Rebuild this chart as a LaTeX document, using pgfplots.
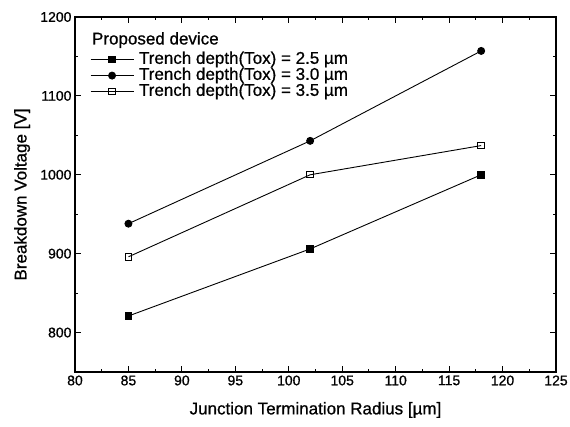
\documentclass[border=0pt]{standalone}
\usepackage{fontspec}
\setmainfont[FakeBold=0.8,BoldFont={Liberation Sans}]{Liberation Sans}
\usepackage{pgfplots}
\pgfplotsset{compat=1.18}
\begin{document}
\begin{tikzpicture}
\begin{axis}[
  scale only axis,
  width=481pt, height=355pt,
  xmin=80, xmax=125, ymin=750, ymax=1200,
  xtick={80,85,...,125},
  ytick={800,900,1000,1100,1200},
  minor x tick num=1, minor y tick num=1,
  tick align=inside,
  major tick length=6pt, minor tick length=3pt,
  axis line style={line width=1.1pt},
  every tick/.style={black, line width=0.9pt},
  /pgf/number format/1000 sep={},
  /pgf/number format/assume math mode=true,
  tick label style={font=\fontsize{14}{14}\selectfont},
  xlabel={Junction Termination Radius [µm]},
  ylabel={Breakdown Voltage [V]},
  label style={font=\fontsize{17}{18}\selectfont},
  xlabel style={at={(axis description cs:0.5,-0.107)}, anchor=center},
  ylabel style={at={(axis description cs:-0.110,0.5)}, anchor=center},
  legend cell align=left,
  legend image code/.code={\draw[mark repeat=2,mark phase=2,#1] plot coordinates {(0pt,0pt) (21.5pt,0pt) (43pt,0pt)};},
  legend style={draw=none, fill=none, inner sep=0pt, row sep=1.5pt,
    at={(axis description cs:0.031,0.901)}, anchor=north west,
    nodes={inner sep=0pt, text height=11.5pt, text depth=3pt, font=\fontsize{17}{17}\selectfont},
    /tikz/every odd column/.append style={column sep=5pt}},
]
\addplot[black, line width=0.9pt, mark=square*, mark size=3.3pt, mark options={solid}]
  coordinates {(85,821) (102,906) (118,1000)};
\addlegendentry{Trench depth(Tox) = 2.5 µm}
\addplot[black, line width=0.9pt, mark=*, mark size=3.5pt, mark options={solid}]
  coordinates {(85,938) (102,1043) (118,1157)};
\addlegendentry{Trench depth(Tox) = 3.0 µm}
\addplot[black, line width=0.9pt, mark=square, mark size=3.2pt, mark options={solid, fill=white, line width=1pt}]
  coordinates {(85,896) (102,1000) (118,1037)};
\addlegendentry{Trench depth(Tox) = 3.5 µm}
\node[anchor=west, inner sep=0pt, font=\fontsize{17}{17}\selectfont] at (axis description cs:0.035,0.935) {Proposed device};
\end{axis}
\pgfresetboundingbox
\path ([shift={(-75pt,-55pt)}]current axis.south west) rectangle ([shift={(14pt,17pt)}]current axis.north east);
\end{tikzpicture}
\end{document}
